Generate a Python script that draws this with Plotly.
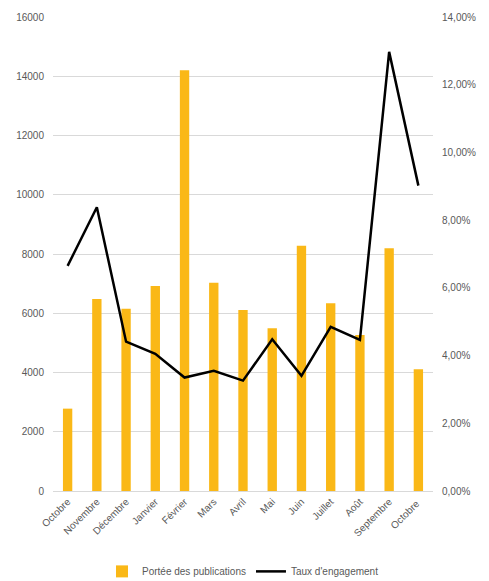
import plotly.graph_objects as go

mois = ["Octobre", "Novembre", "Décembre", "Janvier", "Février", "Mars", "Avril",
        "Mai", "Juin", "Juillet", "Août", "Septembre", "Octobre "]
portee = [2780, 6480, 6150, 6920, 14200, 7030, 6110, 5490, 8280, 6340, 5265, 8190, 4110]
taux = [0.0665, 0.0838, 0.0441, 0.0405, 0.0335, 0.0355, 0.0326, 0.0448, 0.0340,
        0.0485, 0.0446, 0.1297, 0.0902]

font = dict(family="Liberation Sans, Arial, sans-serif", size=10, color="#595959")

fig = go.Figure()
fig.add_trace(go.Bar(x=mois, y=portee, name="Portée des publications",
                     marker=dict(color="#FAB817", line=dict(width=0)), yaxis="y"))
fig.add_trace(go.Scatter(x=mois, y=taux, name="Taux d'engagement", mode="lines",
                         line=dict(color="black", width=2.5), yaxis="y2"))

# page body has an 8px default margin, so the figure is offset by 8px
fig.update_layout(
    width=481, height=573,
    margin=dict(l=45, r=56, t=9, b=90, autoexpand=False),
    paper_bgcolor="white", plot_bgcolor="white",
    font=font,
    separators=",.",
    bargap=0.68,
    showlegend=True,
    legend=dict(orientation="h", x=0.5, xanchor="center", y=-0.139, yanchor="top",
                font=dict(size=10, color="#595959"), tracegroupgap=0),
    xaxis=dict(tickangle=-45, showgrid=False, showline=True, linecolor="#d9d9d9",
               ticks="", tickfont=font, automargin=False),
    yaxis=dict(range=[0, 16000], dtick=2000, tickformat="d", showgrid=True,
               gridcolor="#d9d9d9", zeroline=False, showline=False, ticks="",
               tickfont=font, ticklabelstandoff=8, automargin=False),
    yaxis2=dict(range=[0, 0.14], dtick=0.02, tickformat=".2%", overlaying="y",
                side="right", showgrid=False, zeroline=False, showline=False,
                ticks="", tickfont=font, ticklabelstandoff=8, automargin=False),
)

fig.write_html("out.html")
